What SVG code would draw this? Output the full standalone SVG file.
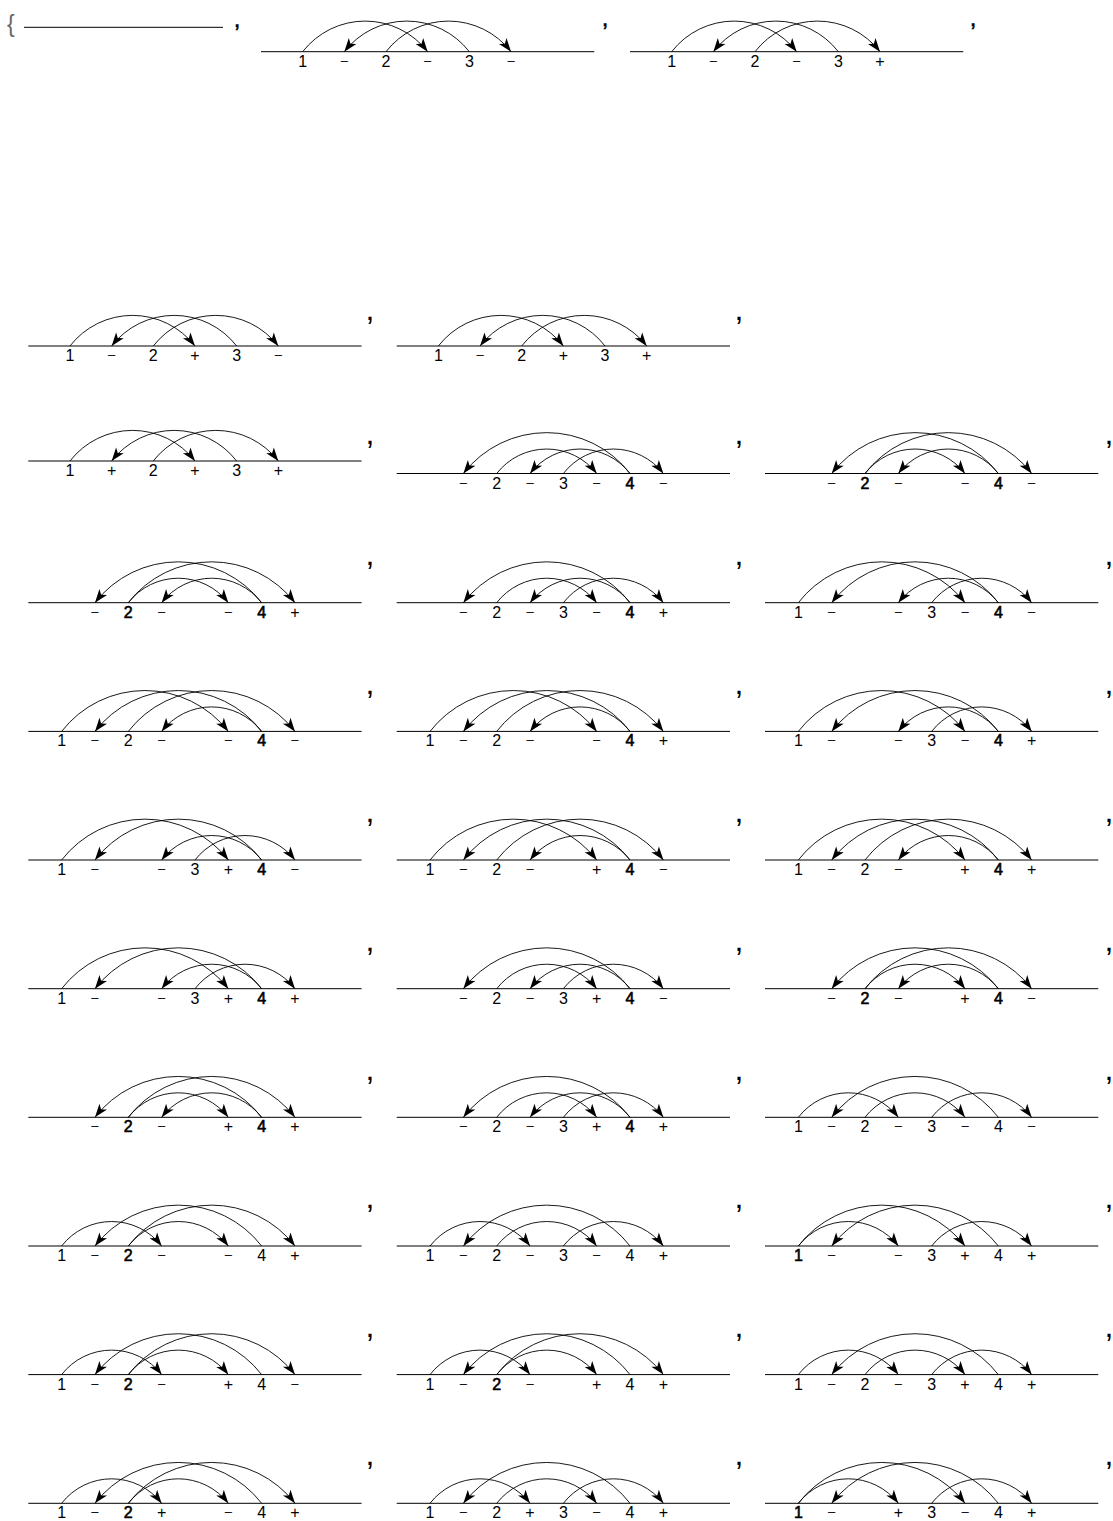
<svg xmlns="http://www.w3.org/2000/svg" width="1113" height="1521" viewBox="0 0 1113 1521">
<style>
.base{stroke:#000;stroke-width:1;fill:none}
.arc{fill:none;stroke:#000;stroke-width:0.9;marker-end:url(#ah)}
text{font-family:"Liberation Sans",Arial,sans-serif;font-size:16px;text-anchor:middle;fill:#000}
.s{font-size:13px}
.b{stroke:#000;stroke-width:0.6}
.cm{font-size:32px}
.cm0{font-size:24px;stroke:#000;stroke-width:0.5}
.br{font-size:23px;fill:#666;text-anchor:start}
</style>
<defs>
<marker id="ah" markerUnits="userSpaceOnUse" viewBox="-15 -6 16 12" markerWidth="16" markerHeight="12" refX="0" refY="0" orient="auto" overflow="visible">
<path d="M0,0 L-13.5,-4.8 L-10,0 L-13.5,4.8 Z" fill="#000"/>
</marker>
<g id="T3">
<path class="arc" d="M41.67,0 A79.1,79.1 0 0 1 166.67,0"/>
<path class="arc" d="M208.33,0 A79.1,79.1 0 0 0 83.33,0"/>
<path class="arc" d="M125,0 A79.1,79.1 0 0 1 250,0"/>
</g>
<path id="a42" class="arc" d="M233.33,0 A105.4,105.4 0 0 0 66.67,0"/>
<path id="a26" class="arc" d="M100,0 A63.3,63.3 0 0 1 200,0"/>
<path id="a44" class="arc" d="M233.33,0 A63.3,63.3 0 0 0 133.33,0"/>
<path id="a38" class="arc" d="M166.67,0 A63.3,63.3 0 0 1 266.67,0"/>
<path id="a28" class="arc" d="M100,0 A105.4,105.4 0 0 1 266.67,0"/>
<path id="a16" class="arc" d="M33.33,0 A105.4,105.4 0 0 1 200,0"/>
<path id="a14" class="arc" d="M33.33,0 A63.3,63.3 0 0 1 133.33,0"/>
<g id="TB"><use href="#a42"/><use href="#a26"/><use href="#a44"/><use href="#a38"/></g>
<g id="TC"><use href="#a28"/><use href="#a42"/><use href="#a26"/><use href="#a44"/></g>
<g id="T3C"><use href="#a16"/><use href="#a42"/><use href="#a44"/><use href="#a38"/></g>
<g id="T4A"><use href="#a16"/><use href="#a42"/><use href="#a28"/><use href="#a44"/></g>
<g id="T7C"><use href="#a14"/><use href="#a42"/><use href="#a26"/><use href="#a38"/></g>
<g id="T8A"><use href="#a14"/><use href="#a42"/><use href="#a28"/><use href="#a26"/></g>
<g id="T8C"><use href="#a14"/><use href="#a16"/><use href="#a42"/><use href="#a38"/></g>
</defs>
<rect width="1113" height="1521" fill="#fff"/>

<g id="punct">
<text class="br" x="7" y="32">{</text>
<text class="cm0" x="237" y="27">,</text>
<text class="cm0" x="605" y="26">,</text>
<text class="cm0" x="973" y="26">,</text>
<text class="cm" x="370" y="320.3">,</text>
<text class="cm" x="739" y="320.3">,</text>
<text class="cm" x="370" y="444.3">,</text>
<text class="cm" x="739" y="444.3">,</text>
<text class="cm" x="1109" y="444.3">,</text>
<text class="cm" x="370" y="565">,</text><text class="cm" x="739" y="565">,</text><text class="cm" x="1109" y="565">,</text>
<text class="cm" x="370" y="693.7">,</text><text class="cm" x="739" y="693.7">,</text><text class="cm" x="1109" y="693.7">,</text>
<text class="cm" x="370" y="822.3">,</text><text class="cm" x="739" y="822.3">,</text><text class="cm" x="1109" y="822.3">,</text>
<text class="cm" x="370" y="951">,</text><text class="cm" x="739" y="951">,</text><text class="cm" x="1109" y="951">,</text>
<text class="cm" x="370" y="1079.6">,</text><text class="cm" x="739" y="1079.6">,</text><text class="cm" x="1109" y="1079.6">,</text>
<text class="cm" x="370" y="1208.3">,</text><text class="cm" x="739" y="1208.3">,</text><text class="cm" x="1109" y="1208.3">,</text>
<text class="cm" x="370" y="1336.9">,</text><text class="cm" x="739" y="1336.9">,</text><text class="cm" x="1109" y="1336.9">,</text>
<text class="cm" x="370" y="1465">,</text><text class="cm" x="739" y="1465">,</text><text class="cm" x="1109" y="1465">,</text>
</g>

<g id="panels">
<g id="p0"><line class="base" x1="24" y1="27.3" x2="223" y2="27.3"/></g>

<g id="r0b" transform="translate(261,51.7)"><line class="base" x1="0" y1="0" x2="333.3" y2="0"/>
<text x="41.67" y="15">1</text><text class="s" x="83.33" y="13">–</text><text x="125" y="15">2</text><text class="s" x="166.67" y="13">–</text><text x="208.33" y="15">3</text><text class="s" x="250" y="13">–</text></g>
<g id="r0c" transform="translate(630,51.7)"><line class="base" x1="0" y1="0" x2="333.3" y2="0"/>
<text x="41.67" y="15">1</text><text class="s" x="83.33" y="13">–</text><text x="125" y="15">2</text><text class="s" x="166.67" y="13">–</text><text x="208.33" y="15">3</text><text x="250" y="15">+</text></g>

<g id="r1a" transform="translate(28.3,346)"><line class="base" x1="0" y1="0" x2="333.3" y2="0"/>
<text x="41.67" y="15">1</text><text class="s" x="83.33" y="13">–</text><text x="125" y="15">2</text><text x="166.67" y="15">+</text><text x="208.33" y="15">3</text><text class="s" x="250" y="13">–</text></g>
<g id="r1b" transform="translate(396.7,346)"><line class="base" x1="0" y1="0" x2="333.3" y2="0"/>
<text x="41.67" y="15">1</text><text class="s" x="83.33" y="13">–</text><text x="125" y="15">2</text><text x="166.67" y="15">+</text><text x="208.33" y="15">3</text><text x="250" y="15">+</text></g>

<g id="r2a" transform="translate(28.3,461)"><line class="base" x1="0" y1="0" x2="333.3" y2="0"/>
<text x="41.67" y="15">1</text><text x="83.33" y="15">+</text><text x="125" y="15">2</text><text x="166.67" y="15">+</text><text x="208.33" y="15">3</text><text x="250" y="15">+</text></g>
<g id="r2b" transform="translate(396.7,473.5)"><line class="base" x1="0" y1="0" x2="333.3" y2="0"/>
<text class="s" x="66.67" y="13">–</text><text x="100" y="15">2</text><text class="s" x="133.33" y="13">–</text><text x="166.67" y="15">3</text><text class="s" x="200" y="13">–</text><text class="b" x="233.33" y="15">4</text><text class="s" x="266.67" y="13">–</text></g>
<g id="r2c" transform="translate(765,473.5)"><line class="base" x1="0" y1="0" x2="333.3" y2="0"/>
<text class="s" x="66.67" y="13">–</text><text class="b" x="100" y="15">2</text><text class="s" x="133.33" y="13">–</text><text class="s" x="200" y="13">–</text><text class="b" x="233.33" y="15">4</text><text class="s" x="266.67" y="13">–</text></g>

<g id="r3a" transform="translate(28.3,602.7)"><line class="base" x1="0" y1="0" x2="333.3" y2="0"/>
<text class="s" x="66.67" y="13">–</text><text class="b" x="100" y="15">2</text><text class="s" x="133.33" y="13">–</text><text class="s" x="200" y="13">–</text><text class="b" x="233.33" y="15">4</text><text x="266.67" y="15">+</text></g>
<g id="r3b" transform="translate(396.7,602.7)"><line class="base" x1="0" y1="0" x2="333.3" y2="0"/>
<text class="s" x="66.67" y="13">–</text><text x="100" y="15">2</text><text class="s" x="133.33" y="13">–</text><text x="166.67" y="15">3</text><text class="s" x="200" y="13">–</text><text class="b" x="233.33" y="15">4</text><text x="266.67" y="15">+</text></g>
<g id="r3c" transform="translate(765,602.7)"><line class="base" x1="0" y1="0" x2="333.3" y2="0"/>
<text x="33.33" y="15">1</text><text class="s" x="66.67" y="13">–</text><text class="s" x="133.33" y="13">–</text><text x="166.67" y="15">3</text><text class="s" x="200" y="13">–</text><text class="b" x="233.33" y="15">4</text><text class="s" x="266.67" y="13">–</text></g>

<g id="r4a" transform="translate(28.3,731.4)"><line class="base" x1="0" y1="0" x2="333.3" y2="0"/>
<text x="33.33" y="15">1</text><text class="s" x="66.67" y="13">–</text><text x="100" y="15">2</text><text class="s" x="133.33" y="13">–</text><text class="s" x="200" y="13">–</text><text class="b" x="233.33" y="15">4</text><text class="s" x="266.67" y="13">–</text></g>
<g id="r4b" transform="translate(396.7,731.4)"><line class="base" x1="0" y1="0" x2="333.3" y2="0"/>
<text x="33.33" y="15">1</text><text class="s" x="66.67" y="13">–</text><text x="100" y="15">2</text><text class="s" x="133.33" y="13">–</text><text class="s" x="200" y="13">–</text><text class="b" x="233.33" y="15">4</text><text x="266.67" y="15">+</text></g>
<g id="r4c" transform="translate(765,731.4)"><line class="base" x1="0" y1="0" x2="333.3" y2="0"/>
<text x="33.33" y="15">1</text><text class="s" x="66.67" y="13">–</text><text class="s" x="133.33" y="13">–</text><text x="166.67" y="15">3</text><text class="s" x="200" y="13">–</text><text class="b" x="233.33" y="15">4</text><text x="266.67" y="15">+</text></g>

<g id="r5a" transform="translate(28.3,860)"><line class="base" x1="0" y1="0" x2="333.3" y2="0"/>
<text x="33.33" y="15">1</text><text class="s" x="66.67" y="13">–</text><text class="s" x="133.33" y="13">–</text><text x="166.67" y="15">3</text><text x="200" y="15">+</text><text class="b" x="233.33" y="15">4</text><text class="s" x="266.67" y="13">–</text></g>
<g id="r5b" transform="translate(396.7,860)"><line class="base" x1="0" y1="0" x2="333.3" y2="0"/>
<text x="33.33" y="15">1</text><text class="s" x="66.67" y="13">–</text><text x="100" y="15">2</text><text class="s" x="133.33" y="13">–</text><text x="200" y="15">+</text><text class="b" x="233.33" y="15">4</text><text class="s" x="266.67" y="13">–</text></g>
<g id="r5c" transform="translate(765,860)"><line class="base" x1="0" y1="0" x2="333.3" y2="0"/>
<text x="33.33" y="15">1</text><text class="s" x="66.67" y="13">–</text><text x="100" y="15">2</text><text class="s" x="133.33" y="13">–</text><text x="200" y="15">+</text><text class="b" x="233.33" y="15">4</text><text x="266.67" y="15">+</text></g>

<g id="r6a" transform="translate(28.3,988.7)"><line class="base" x1="0" y1="0" x2="333.3" y2="0"/>
<text x="33.33" y="15">1</text><text class="s" x="66.67" y="13">–</text><text class="s" x="133.33" y="13">–</text><text x="166.67" y="15">3</text><text x="200" y="15">+</text><text class="b" x="233.33" y="15">4</text><text x="266.67" y="15">+</text></g>
<g id="r6b" transform="translate(396.7,988.7)"><line class="base" x1="0" y1="0" x2="333.3" y2="0"/>
<text class="s" x="66.67" y="13">–</text><text x="100" y="15">2</text><text class="s" x="133.33" y="13">–</text><text x="166.67" y="15">3</text><text x="200" y="15">+</text><text class="b" x="233.33" y="15">4</text><text class="s" x="266.67" y="13">–</text></g>
<g id="r6c" transform="translate(765,988.7)"><line class="base" x1="0" y1="0" x2="333.3" y2="0"/>
<text class="s" x="66.67" y="13">–</text><text class="b" x="100" y="15">2</text><text class="s" x="133.33" y="13">–</text><text x="200" y="15">+</text><text class="b" x="233.33" y="15">4</text><text class="s" x="266.67" y="13">–</text></g>

<g id="r7a" transform="translate(28.3,1117.3)"><line class="base" x1="0" y1="0" x2="333.3" y2="0"/>
<text class="s" x="66.67" y="13">–</text><text class="b" x="100" y="15">2</text><text class="s" x="133.33" y="13">–</text><text x="200" y="15">+</text><text class="b" x="233.33" y="15">4</text><text x="266.67" y="15">+</text></g>
<g id="r7b" transform="translate(396.7,1117.3)"><line class="base" x1="0" y1="0" x2="333.3" y2="0"/>
<text class="s" x="66.67" y="13">–</text><text x="100" y="15">2</text><text class="s" x="133.33" y="13">–</text><text x="166.67" y="15">3</text><text x="200" y="15">+</text><text class="b" x="233.33" y="15">4</text><text x="266.67" y="15">+</text></g>
<g id="r7c" transform="translate(765,1117.3)"><line class="base" x1="0" y1="0" x2="333.3" y2="0"/>
<text x="33.33" y="15">1</text><text class="s" x="66.67" y="13">–</text><text x="100" y="15">2</text><text class="s" x="133.33" y="13">–</text><text x="166.67" y="15">3</text><text class="s" x="200" y="13">–</text><text x="233.33" y="15">4</text><text class="s" x="266.67" y="13">–</text></g>

<g id="r8a" transform="translate(28.3,1246)"><line class="base" x1="0" y1="0" x2="333.3" y2="0"/>
<text x="33.33" y="15">1</text><text class="s" x="66.67" y="13">–</text><text class="b" x="100" y="15">2</text><text class="s" x="133.33" y="13">–</text><text class="s" x="200" y="13">–</text><text x="233.33" y="15">4</text><text x="266.67" y="15">+</text></g>
<g id="r8b" transform="translate(396.7,1246)"><line class="base" x1="0" y1="0" x2="333.3" y2="0"/>
<text x="33.33" y="15">1</text><text class="s" x="66.67" y="13">–</text><text x="100" y="15">2</text><text class="s" x="133.33" y="13">–</text><text x="166.67" y="15">3</text><text class="s" x="200" y="13">–</text><text x="233.33" y="15">4</text><text x="266.67" y="15">+</text></g>
<g id="r8c" transform="translate(765,1246)"><line class="base" x1="0" y1="0" x2="333.3" y2="0"/>
<text class="b" x="33.33" y="15">1</text><text class="s" x="66.67" y="13">–</text><text class="s" x="133.33" y="13">–</text><text x="166.67" y="15">3</text><text x="200" y="15">+</text><text x="233.33" y="15">4</text><text x="266.67" y="15">+</text></g>

<g id="r9a" transform="translate(28.3,1374.6)"><line class="base" x1="0" y1="0" x2="333.3" y2="0"/>
<text x="33.33" y="15">1</text><text class="s" x="66.67" y="13">–</text><text class="b" x="100" y="15">2</text><text class="s" x="133.33" y="13">–</text><text x="200" y="15">+</text><text x="233.33" y="15">4</text><text class="s" x="266.67" y="13">–</text></g>
<g id="r9b" transform="translate(396.7,1374.6)"><line class="base" x1="0" y1="0" x2="333.3" y2="0"/>
<text x="33.33" y="15">1</text><text class="s" x="66.67" y="13">–</text><text class="b" x="100" y="15">2</text><text class="s" x="133.33" y="13">–</text><text x="200" y="15">+</text><text x="233.33" y="15">4</text><text x="266.67" y="15">+</text></g>
<g id="r9c" transform="translate(765,1374.6)"><line class="base" x1="0" y1="0" x2="333.3" y2="0"/>
<text x="33.33" y="15">1</text><text class="s" x="66.67" y="13">–</text><text x="100" y="15">2</text><text class="s" x="133.33" y="13">–</text><text x="166.67" y="15">3</text><text x="200" y="15">+</text><text x="233.33" y="15">4</text><text x="266.67" y="15">+</text></g>

<g id="r10a" transform="translate(28.3,1503.3)"><line class="base" x1="0" y1="0" x2="333.3" y2="0"/>
<text x="33.33" y="15">1</text><text class="s" x="66.67" y="13">–</text><text class="b" x="100" y="15">2</text><text x="133.33" y="15">+</text><text class="s" x="200" y="13">–</text><text x="233.33" y="15">4</text><text x="266.67" y="15">+</text></g>
<g id="r10b" transform="translate(396.7,1503.3)"><line class="base" x1="0" y1="0" x2="333.3" y2="0"/>
<text x="33.33" y="15">1</text><text class="s" x="66.67" y="13">–</text><text x="100" y="15">2</text><text x="133.33" y="15">+</text><text x="166.67" y="15">3</text><text class="s" x="200" y="13">–</text><text x="233.33" y="15">4</text><text x="266.67" y="15">+</text></g>
<g id="r10c" transform="translate(765,1503.3)"><line class="base" x1="0" y1="0" x2="333.3" y2="0"/>
<text class="b" x="33.33" y="15">1</text><text class="s" x="66.67" y="13">–</text><text x="133.33" y="15">+</text><text x="166.67" y="15">3</text><text class="s" x="200" y="13">–</text><text x="233.33" y="15">4</text><text x="266.67" y="15">+</text></g>
</g>

<g id="connectors">
<use href="#T3" transform="translate(261,51.7)"/>
<use href="#T3" transform="translate(630,51.7)"/>
<use href="#T3" transform="translate(28.3,346)"/>
<use href="#T3" transform="translate(396.7,346)"/>
<use href="#T3" transform="translate(28.3,461)"/>
<use href="#TB" transform="translate(396.7,473.5)"/>
<use href="#TC" transform="translate(765,473.5)"/>
<use href="#TC" transform="translate(28.3,602.7)"/>
<use href="#TB" transform="translate(396.7,602.7)"/>
<use href="#T3C" transform="translate(765,602.7)"/>
<use href="#T4A" transform="translate(28.3,731.4)"/>
<use href="#T4A" transform="translate(396.7,731.4)"/>
<use href="#T3C" transform="translate(765,731.4)"/>
<use href="#T3C" transform="translate(28.3,860)"/>
<use href="#T4A" transform="translate(396.7,860)"/>
<use href="#T4A" transform="translate(765,860)"/>
<use href="#T3C" transform="translate(28.3,988.7)"/>
<use href="#TB" transform="translate(396.7,988.7)"/>
<use href="#TC" transform="translate(765,988.7)"/>
<use href="#TC" transform="translate(28.3,1117.3)"/>
<use href="#TB" transform="translate(396.7,1117.3)"/>
<use href="#T7C" transform="translate(765,1117.3)"/>
<use href="#T8A" transform="translate(28.3,1246)"/>
<use href="#T7C" transform="translate(396.7,1246)"/>
<use href="#T8C" transform="translate(765,1246)"/>
<use href="#T8A" transform="translate(28.3,1374.6)"/>
<use href="#T8A" transform="translate(396.7,1374.6)"/>
<use href="#T7C" transform="translate(765,1374.6)"/>
<use href="#T8A" transform="translate(28.3,1503.3)"/>
<use href="#T7C" transform="translate(396.7,1503.3)"/>
<use href="#T8C" transform="translate(765,1503.3)"/>
</g>
</svg>
